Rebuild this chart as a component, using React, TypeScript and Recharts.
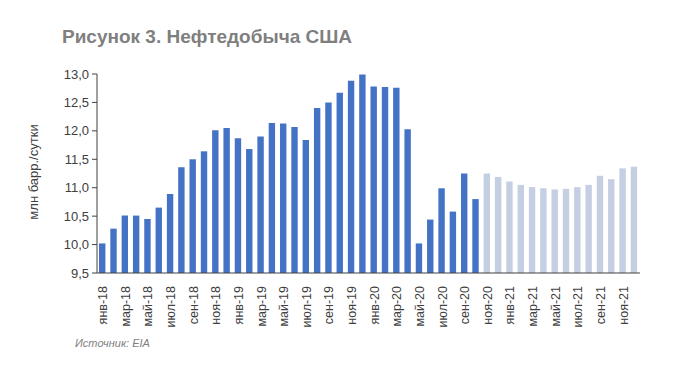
import React from "react";
import { BarChart, Bar, XAxis, YAxis, Cell } from "recharts";

const monthNames = ["янв", "фев", "мар", "апр", "май", "июн", "июл", "авг", "сен", "окт", "ноя", "дек"];
const years = ["18", "19", "20", "21"];

const actualValues = [
  10.02, 10.28, 10.51, 10.51, 10.45, 10.65, 10.89, 11.36, 11.5, 11.64, 12.01, 12.05,
  11.87, 11.68, 11.9, 12.14, 12.13, 12.07, 11.84, 12.4, 12.5, 12.67, 12.88, 12.99,
  12.78, 12.77, 12.76, 12.03, 10.02, 10.44, 10.99, 10.58, 11.25, 10.8,
];
const forecastValues = [
  11.25, 11.19, 11.11, 11.05, 11.01, 10.99, 10.97, 10.98, 11.01, 11.05, 11.21, 11.15, 11.34, 11.37,
];
const yTicks = [9.5, 10, 10.5, 11, 11.5, 12, 12.5, 13];

const labels = years.flatMap((y) => monthNames.map((m) => `${m}-${y}`));
const data = labels.map((label, i) => ({
  label,
  value: i < actualValues.length ? actualValues[i] : forecastValues[i - actualValues.length],
  forecast: i >= actualValues.length,
}));

const XTick = (props: any) => {
  const { x, y, payload } = props;
  return (
    <text
      x={0}
      y={0}
      transform={`translate(${x + 4.5},${y + 5}) rotate(-90)`}
      textAnchor="end"
      fontSize={12.5}
      fontFamily="Arial, 'Liberation Sans', sans-serif"
      fill="#404040"
    >
      {payload.value}
    </text>
  );
};

export default function App() {
  return (
    <div style={{ position: "absolute", left: 0, top: 0, width: 700, height: 379, background: "#fff", fontFamily: "Arial, 'Liberation Sans', sans-serif" }}>
      <div style={{ position: "absolute", left: 62, top: 26, fontSize: 19, fontWeight: "bold", color: "#7f7f7f", whiteSpace: "nowrap" }}>
        Рисунок 3. Нефтедобыча США
      </div>
      <div
        style={{
          position: "absolute",
          left: 33,
          top: 172,
          transform: "translate(-50%, -50%) rotate(-90deg)",
          whiteSpace: "nowrap",
          fontSize: 13,
          color: "#404040",
        }}
      >
        млн барр./сутки
      </div>
      <div style={{ position: "absolute", left: 75, top: 337, fontSize: 11, fontStyle: "italic", color: "#7f7f7f" }}>
        Источник: EIA
      </div>
      <BarChart
        width={700}
        height={379}
        data={data}
        margin={{ top: 74, right: 60, bottom: 0, left: 0 }}
        style={{ position: "absolute", left: 0, top: 0 }}
      >
        <YAxis
          width={97}
          domain={[9.5, 13]}
          ticks={yTicks}
          allowDataOverflow
          tickFormatter={(v: number) => v.toFixed(1).replace(".", ",")}
          tick={{ fontSize: 13, fill: "#404040", fontFamily: "Arial, 'Liberation Sans', sans-serif" }}
          axisLine={{ stroke: "#404040" }}
          tickLine={{ stroke: "#404040" }}
          tickSize={5}
          tickMargin={3}
        />
        <XAxis
          dataKey="label"
          height={106}
          interval={1}
          tick={<XTick />}
          axisLine={{ stroke: "#404040" }}
          tickLine={false}
        />
        <Bar dataKey="value" barSize={6.4} isAnimationActive={false}>
          {data.map((d, i) => (
            <Cell key={i} fill={d.forecast ? "#c4cfe3" : "#4472c4"} />
          ))}
        </Bar>
      </BarChart>
    </div>
  );
}
